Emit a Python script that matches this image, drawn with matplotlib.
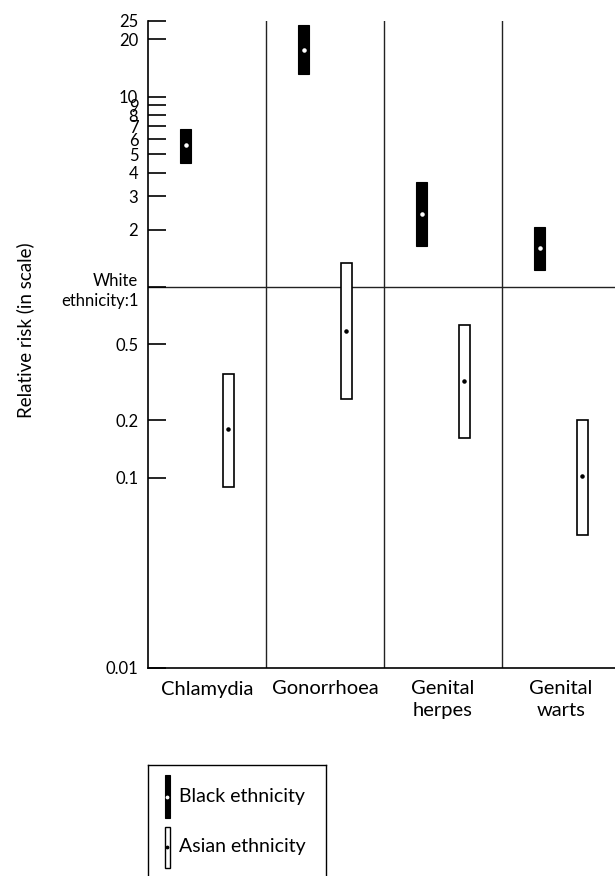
import numpy as np
import matplotlib
matplotlib.use('Agg')
import matplotlib.pyplot as plt

plt.rcParams['font.family'] = ['Lato', 'DejaVu Sans']

# data: relative risk vs white ethnicity (log scale)
infections = ['Chlamydia', 'Gonorrhoea', 'Genital\nherpes', 'Genital\nwarts']
black_rr = [5.6, 17.5, 2.42, 1.60]
black_lo = [4.5, 13.1, 1.64, 1.23]
black_hi = [6.8, 23.7, 3.56, 2.06]
asian_rr = [0.18, 0.59, 0.32, 0.102]
asian_lo = [0.089, 0.26, 0.161, 0.050]
asian_hi = [0.35, 1.34, 0.63, 0.20]

ytick_vals = [0.01, 0.1, 0.2, 0.5, 1, 2, 3, 4, 5, 6, 7, 8, 9, 10, 20, 25]
ytick_labels = ['0.01', '0.1', '0.2', '0.5', 'White\nethnicity:1', '2', '3', '4',
                '5', '6', '7', '8', '9', '10', '20', '25']

W, H = 615, 876
fig = plt.figure(figsize=(W / 100, H / 100), dpi=100)
ax = fig.add_axes([148 / W, (H - 668) / H, 1 - 148 / W, (668 - 21) / H])

x = np.arange(len(infections)) + 0.5
off = 0.18
bw = 0.093
blo = np.array(black_lo)
bhi = np.array(black_hi)
alo = np.array(asian_lo)
ahi = np.array(asian_hi)

ax.bar(x - off, bhi - blo, bottom=blo, width=bw, color='black', edgecolor='black', lw=0.8, zorder=3)
ax.bar(x + off, ahi - alo, bottom=alo, width=bw, color='white', edgecolor='black', lw=1.2, zorder=3)
ax.scatter(x - off, black_rr, s=5, color='white', zorder=4)
ax.scatter(x + off, asian_rr, s=5, color='black', zorder=4)

ax.set_yscale('log')
ax.set_ylim(0.01, 25)
ax.set_xlim(0, (W - 148) / 118)

for xs in range(1, len(infections)):
    ax.axvline(xs, color='#222222', lw=1.0, zorder=1)
ax.axhline(1, color='#222222', lw=1.0, zorder=1)

ax.set_yticks(ytick_vals)
ax.set_yticklabels(ytick_labels, ha='right', multialignment='right', linespacing=1.3)
ax.yaxis.set_minor_locator(matplotlib.ticker.NullLocator())
ax.tick_params(axis='y', direction='in', length=13, width=1.2, pad=7, labelsize=12)
ax.set_xticks(x)
ax.set_xticklabels(infections, fontsize=14.5, linespacing=1.35)
ax.tick_params(axis='x', length=0, pad=9)

for s in ['top', 'right']:
    ax.spines[s].set_visible(False)
ax.spines['left'].set_linewidth(1.2)
ax.spines['bottom'].set_linewidth(1.2)

fig.text(25 / W, 1 - 330 / H, 'Relative risk (in scale)', rotation=90,
         ha='center', va='center', fontsize=13.5)

# legend box
lg = fig.add_axes([148 / W, -0.01, (326 - 148) / W, (H - 765) / H + 0.01])
lg.set_xlim(0, 178)
lg.set_ylim(H + 9, 765)
lg.set_xticks([])
lg.set_yticks([])
lg.spines['bottom'].set_visible(False)
for s in ['top', 'left', 'right']:
    lg.spines[s].set_linewidth(1.0)
lg.bar([19], [43], bottom=[775], width=5, color='black', edgecolor='black', lw=0.8)
lg.bar([19], [41], bottom=[827], width=5, color='white', edgecolor='black', lw=1.0)
lg.scatter([19], [797], s=3, color='white', zorder=4)
lg.scatter([19], [847], s=3, color='black', zorder=4)
lg.text(31, 797, 'Black ethnicity', va='center', ha='left', fontsize=14)
lg.text(31, 847, 'Asian ethnicity', va='center', ha='left', fontsize=14)

fig.savefig('out.png', dpi=100)
